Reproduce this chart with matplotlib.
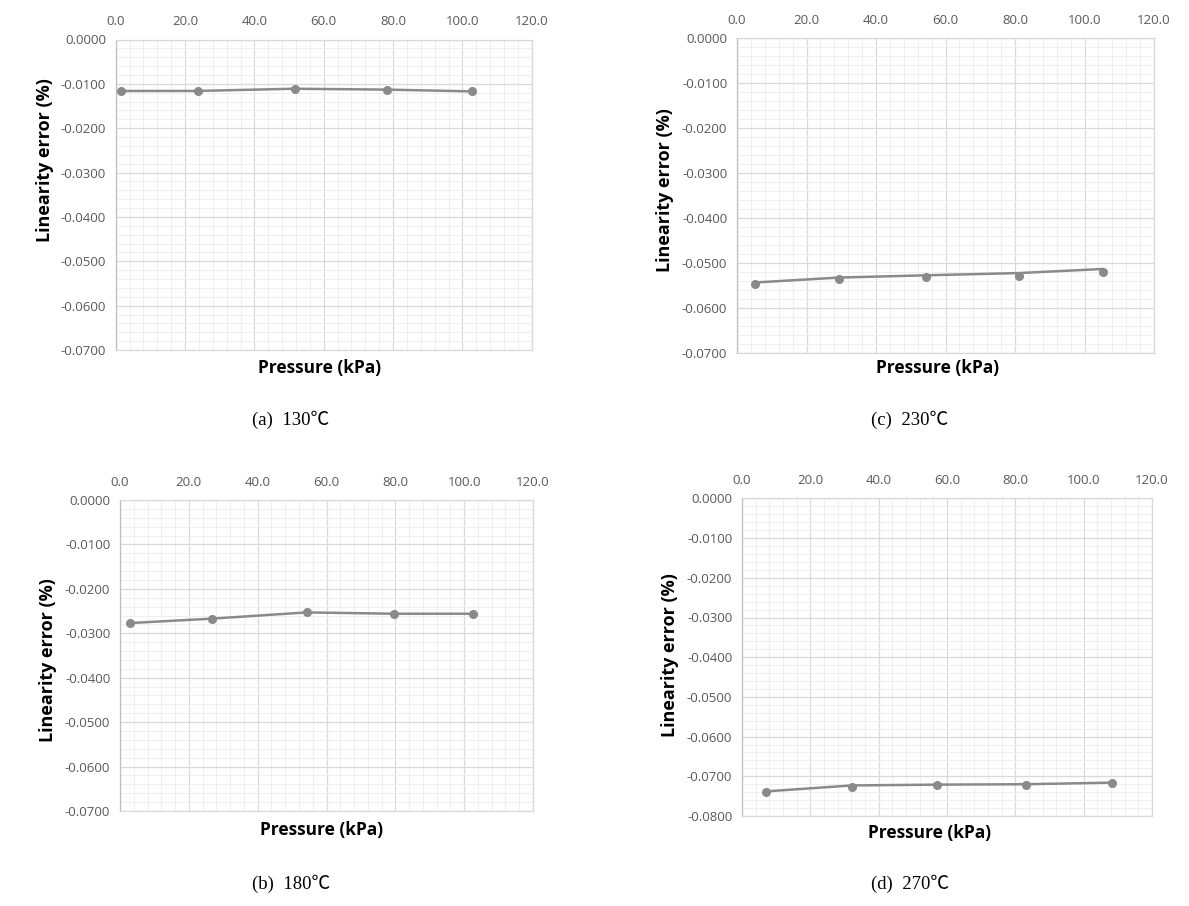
import numpy as np
import matplotlib
matplotlib.use("Agg")
import matplotlib.pyplot as plt
from matplotlib.ticker import MultipleLocator, FormatStrFormatter

# pressure (kPa) and linearity error (%)
p_130 = [1.6, 23.6, 51.6, 78.4, 102.7]
e_130 = [-0.0116, -0.0116, -0.0111, -0.0113, -0.0117]

p_180 = [2.9, 26.8, 54.2, 79.6, 102.6]
e_180 = [-0.0277, -0.0267, -0.0253, -0.0256, -0.0256]

p_230 = [5.2, 29.4, 54.4, 81.2, 105.2]
e_230 = [-0.0547, -0.0537, -0.0532, -0.0530, -0.0520]
line_230 = [-0.0544, -0.0533, -0.0528, -0.0523, -0.0514]

p_270 = [7.0, 32.2, 57.2, 83.1, 108.2]
e_270 = [-0.0739, -0.0726, -0.0723, -0.0723, -0.0718]
line_270 = [-0.0738, -0.0723, -0.0721, -0.0720, -0.0716]

captions = ["(a)  130\u2103", "(b)  180\u2103", "(c)  230\u2103", "(d)  270\u2103"]

W, H = 1189, 906
fig = plt.figure(figsize=(W / 100, H / 100), dpi=100)
fig.patch.set_facecolor("white")

TICK_C = "#595959"
LINE_C = "#8a8a8a"


def px_axes(l, r, t, b):
    return fig.add_axes([l / W, 1 - b / H, (r - l) / W, (b - t) / H])


def draw_panel(box, xs, ys, line_ys, ymin, cap, ylab_xy, xlab_xy, cap_xy):
    ax = px_axes(*box)
    ax.plot(xs, line_ys, color=LINE_C, lw=1.8, zorder=3)
    ax.plot(xs, ys, "o", color=LINE_C, ms=5.5, zorder=4)
    ax.set_xlim(0, 120)
    ax.set_ylim(ymin, 0)
    ax.xaxis.tick_top()
    ax.xaxis.set_major_locator(MultipleLocator(20))
    ax.xaxis.set_minor_locator(MultipleLocator(4))
    ax.yaxis.set_major_locator(MultipleLocator(0.01))
    ax.yaxis.set_minor_locator(MultipleLocator(0.002))
    ax.xaxis.set_major_formatter(FormatStrFormatter("%.1f"))
    ax.yaxis.set_major_formatter(FormatStrFormatter("%.4f"))
    ax.grid(which="major", color="#d9d9d9", lw=0.9)
    ax.grid(which="minor", color="#efefef", lw=0.7)
    ax.set_axisbelow(True)
    ax.tick_params(which="both", length=0, labelsize=9.5, colors=TICK_C,
                   labelfontfamily="Open Sans")
    ax.tick_params(axis="x", pad=8)
    ax.tick_params(axis="y", pad=7)
    for s in ax.spines.values():
        s.set_color("#d9d9d9")
        s.set_linewidth(0.9)
    ax.spines["left"].set_color("#bfbfbf")

    fig.text(ylab_xy[0] / W, 1 - ylab_xy[1] / H, "Linearity error (%)",
             rotation=90, ha="center", va="center", fontsize=13,
             fontweight="bold", family="Open Sans")
    fig.text(xlab_xy[0] / W, 1 - xlab_xy[1] / H, "Pressure (kPa)",
             ha="center", va="center", fontsize=12.5, fontweight="bold",
             family="Open Sans")
    fig.text(cap_xy[0] / W, 1 - cap_xy[1] / H, cap, ha="center", va="center",
             fontsize=13.5, family=["Liberation Serif", "Noto Sans CJK SC"])
    return ax


draw_panel((115.7, 531.7, 39.5, 350), p_130, e_130, e_130, -0.07, captions[0],
           (45, 160), (320, 368), (291, 420))
draw_panel((120, 533, 500, 811), p_180, e_180, e_180, -0.07, captions[1],
           (48, 660), (322, 830), (291, 884))
draw_panel((737, 1154, 37.7, 352.7), p_230, e_230, line_230, -0.07, captions[2],
           (665, 190), (938, 368), (910, 420))
draw_panel((742, 1152, 498.4, 816), p_270, e_270, line_270, -0.08, captions[3],
           (670, 655), (930, 833), (910, 884))

fig.savefig("out.png", dpi=100, facecolor="white")
